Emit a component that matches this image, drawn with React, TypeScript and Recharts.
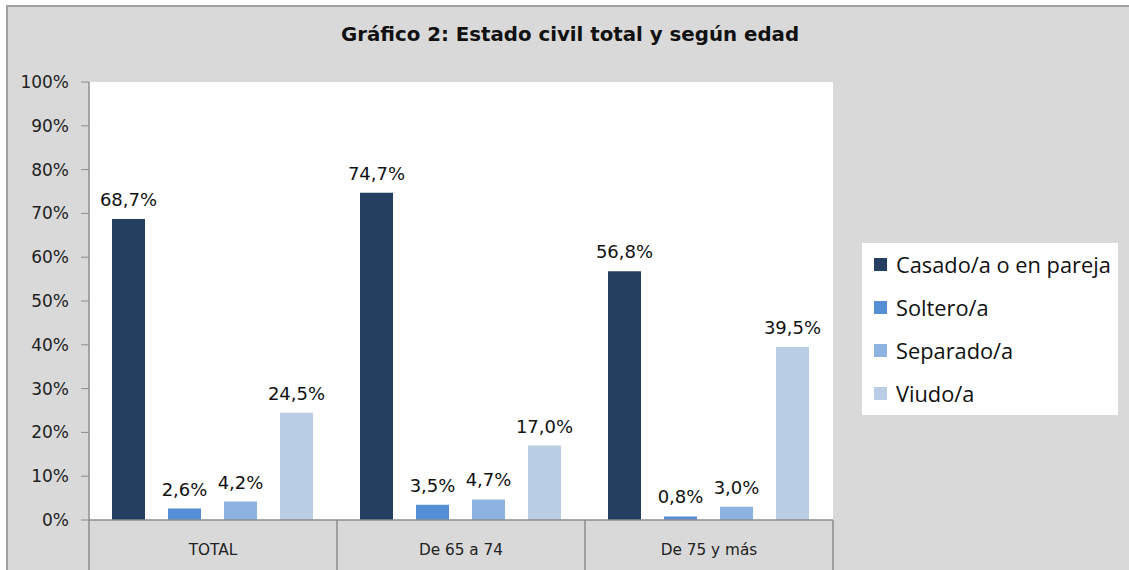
import { BarChart, Bar, XAxis, YAxis, CartesianGrid, LabelList } from "recharts";

const categories = ["TOTAL", "De 65 a 74", "De 75 y más"];
const casado = [68.7, 74.7, 56.8];
const soltero = [2.6, 3.5, 0.8];
const separado = [4.2, 4.7, 3.0];
const viudo = [24.5, 17.0, 39.5];
const yTicks = [0, 10, 20, 30, 40, 50, 60, 70, 80, 90, 100];

const series = [
  { key: "casado", name: "Casado/a o en pareja", color: "#253f60" },
  { key: "soltero", name: "Soltero/a", color: "#558ed5" },
  { key: "separado", name: "Separado/a", color: "#8db3e2" },
  { key: "viudo", name: "Viudo/a", color: "#b9cde5" },
];

const data = categories.map((c, i) => ({
  name: c,
  casado: casado[i],
  soltero: soltero[i],
  separado: separado[i],
  viudo: viudo[i],
}));

const W = 1129;
const H = 570;
const PLOT_LEFT = 89;
const PLOT_TOP = 82;
const PLOT_RIGHT = 833;
const PLOT_BOTTOM = 520;
const BAND_HALF = (PLOT_RIGHT - PLOT_LEFT) / categories.length / 2;

const tickFont = "'DejaVu Sans', sans-serif";
const fmt = (v: any) => Number(v).toFixed(1).replace(".", ",") + "%";

const CategoryTick = (props: any) => {
  const { x, y, payload, index } = props;
  const last = index === categories.length - 1;
  return (
    <g>
      <line x1={x - BAND_HALF} y1={y - 8} x2={x - BAND_HALF} y2={H} stroke="#8c8c8c" strokeWidth={1.5} />
      {last && (
        <line x1={x + BAND_HALF} y1={y - 8} x2={x + BAND_HALF} y2={H} stroke="#8c8c8c" strokeWidth={1.5} />
      )}
      <text x={x} y={y + 27} textAnchor="middle" fontSize={15.3} fontFamily={tickFont} fill="#222">
        {payload.value}
      </text>
    </g>
  );
};

export default function App() {
  return (
    <div style={{ position: "fixed", left: 0, top: 0, width: W, height: H, background: "#fff", overflow: "hidden" }}>
      <div
        style={{
          position: "absolute",
          left: 6,
          top: 5,
          width: W,
          height: H,
          background: "#d9d9d9",
          borderLeft: "2px solid #a0a0a0",
          borderTop: "2px solid #a0a0a0",
        }}
      />
      <div
        style={{
          position: "absolute",
          left: 0,
          top: 23,
          width: 1140,
          textAlign: "center",
          fontFamily: "'DejaVu Sans', sans-serif",
          fontWeight: "bold",
          fontSize: 19.8,
          color: "#111",
        }}
      >
        Gráfico 2: Estado civil total y según edad
      </div>
      <div style={{ position: "absolute", left: 0, top: 0 }}>
        <BarChart
          width={W}
          height={H}
          data={data}
          margin={{ top: PLOT_TOP, left: 0, right: W - PLOT_RIGHT, bottom: 0 }}
          barCategoryGap={23}
          barGap={23}
        >
          <CartesianGrid fill="#ffffff" horizontal={false} vertical={false} />
          <XAxis
            dataKey="name"
            height={H - PLOT_BOTTOM}
            tick={<CategoryTick />}
            tickLine={false}
            axisLine={{ stroke: "#8c8c8c", strokeWidth: 1.5 }}
            interval={0}
          />
          <YAxis
            width={PLOT_LEFT}
            domain={[0, 100]}
            ticks={yTicks}
            tickFormatter={(v: number) => v + "%"}
            tickSize={8}
            tickMargin={12}
            tick={{ fontSize: 17, fill: "#222", fontFamily: tickFont }}
            tickLine={{ stroke: "#8c8c8c" }}
            axisLine={{ stroke: "#8c8c8c", strokeWidth: 1.5 }}
          />
          {series.map((s) => (
            <Bar key={s.key} dataKey={s.key} name={s.name} fill={s.color} isAnimationActive={false}>
              <LabelList
                dataKey={s.key}
                position="top"
                offset={13}
                formatter={fmt}
                style={{ fontSize: 18, fill: "#111", fontFamily: tickFont }}
              />
            </Bar>
          ))}
        </BarChart>
      </div>
      <div
        style={{
          position: "absolute",
          left: 862,
          top: 243,
          background: "#fff",
          width: 256,
          height: 172,
          boxSizing: "border-box",
          paddingTop: 0,
          paddingLeft: 12,
        }}
      >
        {series.map((s) => (
          <div key={s.key} style={{ display: "flex", alignItems: "center", height: 43 }}>
            <span style={{ width: 13, height: 13, background: s.color, display: "inline-block", marginRight: 9 }} />
            <span style={{ fontFamily: "'Open Sans', sans-serif", fontSize: 21.8, color: "#111", whiteSpace: "nowrap" }}>
              {s.name}
            </span>
          </div>
        ))}
      </div>
    </div>
  );
}
